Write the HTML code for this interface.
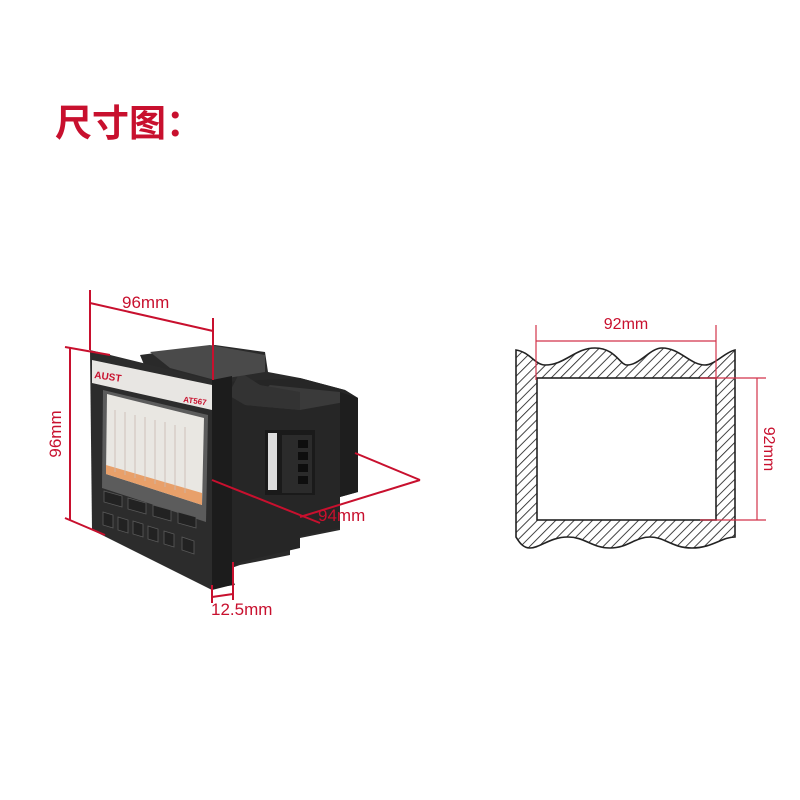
<!DOCTYPE html>
<html><head><meta charset="utf-8"><style>
html,body{margin:0;padding:0;background:#fff;}
svg{display:block}
</style></head><body>
<svg width="800" height="800" viewBox="0 0 800 800" xmlns="http://www.w3.org/2000/svg">
<defs>
<pattern id="h" patternUnits="userSpaceOnUse" width="6.5" height="6.5" patternTransform="rotate(45)">
<rect width="6.5" height="6.5" fill="#fff"/><line x1="0" y1="0" x2="0" y2="6.5" stroke="#222" stroke-width="1.7"/>
</pattern>
</defs>
<text x="55" y="136" font-family="'Liberation Sans','Noto Sans CJK SC',sans-serif" font-size="37" font-weight="bold" fill="#c8102e">尺寸图：</text>

<!-- device rear body -->
<polygon points="140,355 215,345 265,352 268,372 300,378 345,390 358,398 358,490 340,495 340,530 290,540 290,555 240,565 220,572 212,588 235,585" fill="#2a2a2a"/>
<polygon points="228,382 300,378 345,390 358,398 358,492 340,497 340,528 300,536 300,548 240,562 230,570 226,430" fill="#262626"/>
<polygon points="270,385 340,392 356,400 300,410 245,405" fill="#3a3a3a"/>
<polygon points="240,372 260,385 300,392 300,410 245,405 228,395" fill="#333"/>
<polygon points="150,352 210,345 265,355 265,372 215,380 170,368" fill="#4a4a4a"/>
<polygon points="340,392 358,398 358,492 340,497" fill="#1e1e1e"/>
<!-- terminal -->
<rect x="265" y="430" width="50" height="65" fill="#1a1a1a"/>
<rect x="268" y="433" width="9" height="57" fill="#ddd"/>
<rect x="282" y="435" width="30" height="58" fill="#2b2b2b"/>
<g fill="#0e0e0e"><rect x="298" y="440" width="10" height="8"/><rect x="298" y="452" width="10" height="8"/><rect x="298" y="464" width="10" height="8"/><rect x="298" y="476" width="10" height="8"/></g>
<!-- front face side thickness -->
<polygon points="212,380 232,376 232,585 212,590" fill="#1c1c1c"/>
<!-- front bezel -->
<polygon points="90,350 212,380 212,590 92,530" fill="#2c2c2c"/>
<polygon points="92,360 212,385 212,410 92,383" fill="#e8e6e3"/>
<text x="94" y="378" font-family="'Liberation Sans',sans-serif" font-size="10" font-weight="bold" fill="#c8102e" transform="rotate(8 94 378)">AUST</text>
<text x="183" y="402" font-family="'Liberation Sans',sans-serif" font-size="8" font-weight="bold" fill="#c8102e" transform="rotate(8 183 402)">AT567</text>
<!-- screen -->
<polygon points="103,390 208,415 206,522 102,488" fill="#5c5c5c"/>
<polygon points="107,394 204,418 202,505 106,474" fill="#e9e7e2"/>
<polygon points="106,465 202,493 202,505 106,474" fill="#e8a06a"/>
<g stroke="#c9b9b0" stroke-width="0.8">
<line x1="115" y1="410" x2="115" y2="472"/><line x1="125" y1="412" x2="125" y2="475"/><line x1="135" y1="415" x2="135" y2="478"/><line x1="145" y1="417" x2="145" y2="481"/><line x1="155" y1="420" x2="155" y2="484"/><line x1="165" y1="422" x2="165" y2="487"/><line x1="175" y1="425" x2="175" y2="490"/><line x1="185" y1="427" x2="185" y2="493"/>
</g>
<g fill="#222" stroke="#5a5a5a" stroke-width="0.8">
<polygon points="104,491 122,496 122,507 104,502"/>
<polygon points="128,498 146,503 146,514 128,509"/>
<polygon points="153,505 171,510 171,521 153,516"/>
<polygon points="178,512 196,517 196,528 178,523"/>
<polygon points="103,512 113,515 113,528 103,525"/>
<polygon points="118,517 128,520 128,533 118,530"/>
<polygon points="133,521 143,524 143,537 133,534"/>
<polygon points="148,526 158,529 158,542 148,539"/>
<polygon points="164,531 174,534 174,547 164,544"/>
<polygon points="182,537 194,541 194,554 182,550"/>
</g>

<!-- dimension lines device -->
<g stroke="#c8102e" stroke-width="2" fill="none">
<line x1="90" y1="290" x2="90" y2="350"/>
<line x1="213" y1="318" x2="213" y2="380"/>
<line x1="90" y1="303" x2="213" y2="331"/>
<line x1="70" y1="347" x2="70" y2="520"/>
<line x1="65" y1="347" x2="110" y2="355"/>
<line x1="65" y1="518" x2="105" y2="535"/>
<line x1="212" y1="480" x2="320" y2="523"/>
<line x1="300" y1="517" x2="420" y2="480"/>
<line x1="355" y1="453" x2="420" y2="480"/>
<line x1="212" y1="585" x2="212" y2="603"/>
<line x1="233" y1="562" x2="233" y2="600"/>
<line x1="212" y1="597" x2="233" y2="594"/>
</g>
<g font-family="'Liberation Sans',sans-serif" font-size="17" fill="#c8102e">
<text x="122" y="308">96mm</text>
<text x="318" y="521">94mm</text>
<text x="211" y="615">12.5mm</text>
<text transform="translate(61,434) rotate(-90)" text-anchor="middle">96mm</text>
</g>

<!-- cutout panel -->
<path d="M516,350 C530,352 535,365 545,365 C565,365 575,348 595,348 C615,348 620,365 627,365 C640,365 650,348 662,348 C680,348 690,365 705,365 C715,365 725,352 735,350 L735,537 C722,537 712,548 692,548 C672,548 665,537 650,537 C635,537 628,548 610,548 C592,548 585,537 568,537 C550,537 540,548 530,548 C522,548 518,540 516,537 Z" fill="url(#h)" stroke="#222" stroke-width="1.6"/>
<rect x="537" y="378" width="179" height="142" fill="#fff" stroke="#222" stroke-width="1.6"/>
<g stroke="#d2334a" stroke-width="1.2" fill="none">
<line x1="536" y1="325" x2="536" y2="380"/>
<line x1="716" y1="325" x2="716" y2="380"/>
<line x1="536" y1="341" x2="716" y2="341"/>
<line x1="700" y1="378" x2="766" y2="378"/>
<line x1="700" y1="520" x2="766" y2="520"/>
<line x1="757" y1="378" x2="757" y2="520"/>
</g>
<g font-family="'Liberation Sans',sans-serif" font-size="16" fill="#c8102e">
<text x="626" y="329" text-anchor="middle">92mm</text>
<text transform="translate(764,449) rotate(90)" text-anchor="middle">92mm</text>
</g>
</svg>
</body></html>
